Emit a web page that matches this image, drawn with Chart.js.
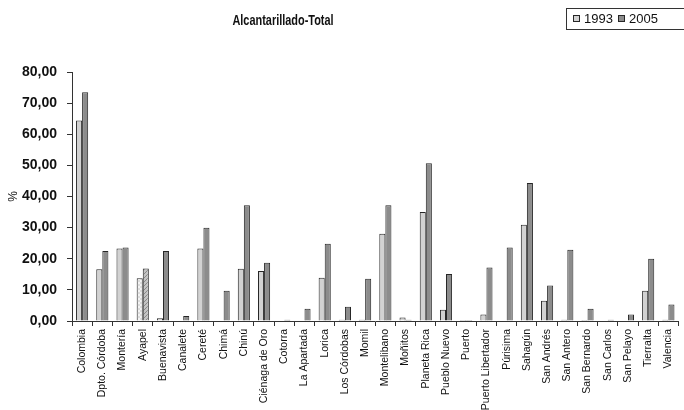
<!DOCTYPE html>
<html>
<head>
<meta charset="utf-8">
<script src="https://cdn.jsdelivr.net/npm/chart.js@4.4.1/dist/chart.umd.min.js"></script>
<style>
  html, body { margin: 0; padding: 0; background: #fff; overflow: hidden; }
  #wrap { width: 684px; height: 410px; }
</style>
</head>
<body>
<div id="wrap"><canvas id="c" width="684" height="410"></canvas></div>
<script>
// Municipios de Córdoba: cobertura de alcantarillado (%)
const categories = [
  'Colombia', 'Dpto. Córdoba', 'Montería', 'Ayapel', 'Buenavista', 'Canalete',
  'Cereté', 'Chimá', 'Chinú', 'Ciénaga de Oro', 'Cotorra', 'La Apartada',
  'Lorica', 'Los Córdobas', 'Momil', 'Montelibano', 'Moñitos', 'Planeta Rica',
  'Pueblo Nuevo', 'Puerto', 'Puerto Libertador', 'Púrisima', 'Sahagún',
  'San Andrés', 'San Antero', 'San Bernardo', 'San Carlos', 'San Pelayo',
  'Tierralta', 'Valencia'
];
const values1993 = [
  64.4, 16.6, 23.3, 13.7, 0.9, 0, 23.3, 0, 16.8, 16.1, 0, 0, 13.9, 0.4, 0.4,
  28.0, 1.1, 35.0, 3.6, 0.3, 2.1, 0, 30.9, 6.5, 0.4, 0.3, 0, 0, 9.7, 0.4
];
const values2005 = [
  73.5, 22.5, 23.6, 16.9, 22.5, 1.6, 30.0, 9.7, 37.2, 18.7, 0.4, 3.9, 24.8, 4.6, 13.6,
  37.2, 0.4, 50.7, 15.1, 0.3, 17.2, 23.6, 44.3, 11.4, 22.9, 3.9, 0.4, 2.1, 20.0, 5.3
];
const seriesNames = ['1993', '2005'];
const yTickValues = [0, 10, 20, 30, 40, 50, 60, 70, 80];
const titleText = 'Alcantarillado-Total';
const highlighted = 'Ayapel';

const SANS = "'Liberation Sans', Arial, sans-serif";
const LIGHT = '#d2d2d2';
const DARK = '#8c8c8c';
const EDGE = '#262626';

function makePattern(bg, fg, kind) {
  const p = document.createElement('canvas');
  p.width = 4; p.height = 4;
  const g = p.getContext('2d');
  g.fillStyle = bg; g.fillRect(0, 0, 4, 4);
  g.fillStyle = fg;
  if (kind === 'check') {
    g.fillRect(0, 0, 2, 2); g.fillRect(2, 2, 2, 2);
  } else {
    g.fillRect(1, 0, 1, 1); g.fillRect(0, 1, 1, 1);
    g.fillRect(3, 2, 1, 1); g.fillRect(2, 3, 1, 1);
  }
  return document.getElementById('c').getContext('2d').createPattern(p, 'repeat');
}
const patLight = makePattern('#dcdcdc', '#f4f4f4', 'check');
const patDark = makePattern('#c4c4c4', '#8a8a8a', 'dots');

const fills1993 = categories.map(c => c === highlighted ? patLight : LIGHT);
const fills2005 = categories.map(c => c === highlighted ? patDark : DARK);

const fmt = v => v.toFixed(2).replace('.', ',');

// chart title, condensed
const titlePlugin = {
  id: 'sideTitle',
  afterDraw(chart) {
    const ctx = chart.ctx;
    ctx.save();
    ctx.font = "bold 14px " + SANS;
    ctx.fillStyle = '#111';
    ctx.textAlign = 'center';
    ctx.textBaseline = 'middle';
    ctx.translate(283, 21);
    ctx.scale(0.78, 1);
    ctx.fillText(titleText, 0, 0);
    ctx.restore();
  }
};

// framed legend box in the top-right corner
const legendPlugin = {
  id: 'boxLegend',
  afterDraw(chart) {
    const ctx = chart.ctx;
    ctx.save();
    ctx.strokeStyle = '#333';
    ctx.lineWidth = 1;
    ctx.strokeRect(566.5, 8.5, 130, 21);
    ctx.font = "13px " + SANS;
    ctx.textBaseline = 'middle';
    const xs = [573, 618];
    chart.data.datasets.forEach((ds, i) => {
      const x = xs[i];
      ctx.fillStyle = i === 0 ? LIGHT : DARK;
      ctx.fillRect(x, 15, 7, 7);
      ctx.strokeStyle = EDGE;
      ctx.strokeRect(x + 0.5, 15.5, 6, 6);
      ctx.fillStyle = '#111';
      ctx.fillText(ds.label, x + 11, 19);
    });
    ctx.restore();
  }
};

new Chart(document.getElementById('c'), {
  type: 'bar',
  data: {
    labels: categories,
    datasets: [
      { label: seriesNames[0], data: values1993, backgroundColor: fills1993,
        borderColor: EDGE, borderWidth: 1, borderSkipped: 'bottom',
        categoryPercentage: 0.6, barPercentage: 1.0 },
      { label: seriesNames[1], data: values2005, backgroundColor: fills2005,
        borderColor: EDGE, borderWidth: 1, borderSkipped: 'bottom',
        categoryPercentage: 0.6, barPercentage: 1.0 }
    ]
  },
  options: {
    responsive: false,
    animation: false,
    devicePixelRatio: 1,
    layout: { padding: { top: 72, right: 0, left: 0, bottom: 0 } },
    plugins: {
      legend: { display: false },
      title: { display: false },
      tooltip: { enabled: false }
    },
    scales: {
      x: {
        grid: { display: true, drawOnChartArea: false, offset: true,
                color: '#333', tickLength: 5 },
        border: { display: true, color: '#333', width: 1 },
        ticks: {
          autoSkip: false, minRotation: 90, maxRotation: 90,
          color: '#111', padding: 3,
          font: { family: SANS, size: 10.5 }
        },
        afterFit(scale) { scale.height = 89; }
      },
      y: {
        min: 0, max: 80,
        afterBuildTicks(scale) { scale.ticks = yTickValues.map(v => ({ value: v })); },
        grid: { display: true, drawOnChartArea: false, color: '#333', tickLength: 5 },
        border: { display: true, color: '#333', width: 1 },
        ticks: {
          color: '#111', padding: 10,
          font: { family: SANS, size: 14, weight: 'bold' },
          callback: v => fmt(v)
        },
        title: {
          display: true, text: '%', color: '#111', padding: { top: 6, bottom: 0 },
          font: { family: SANS, size: 12 }
        },
        afterFit(scale) { scale.width = 72; }
      }
    }
  },
  plugins: [titlePlugin, legendPlugin]
});
</script>
</body>
</html>
